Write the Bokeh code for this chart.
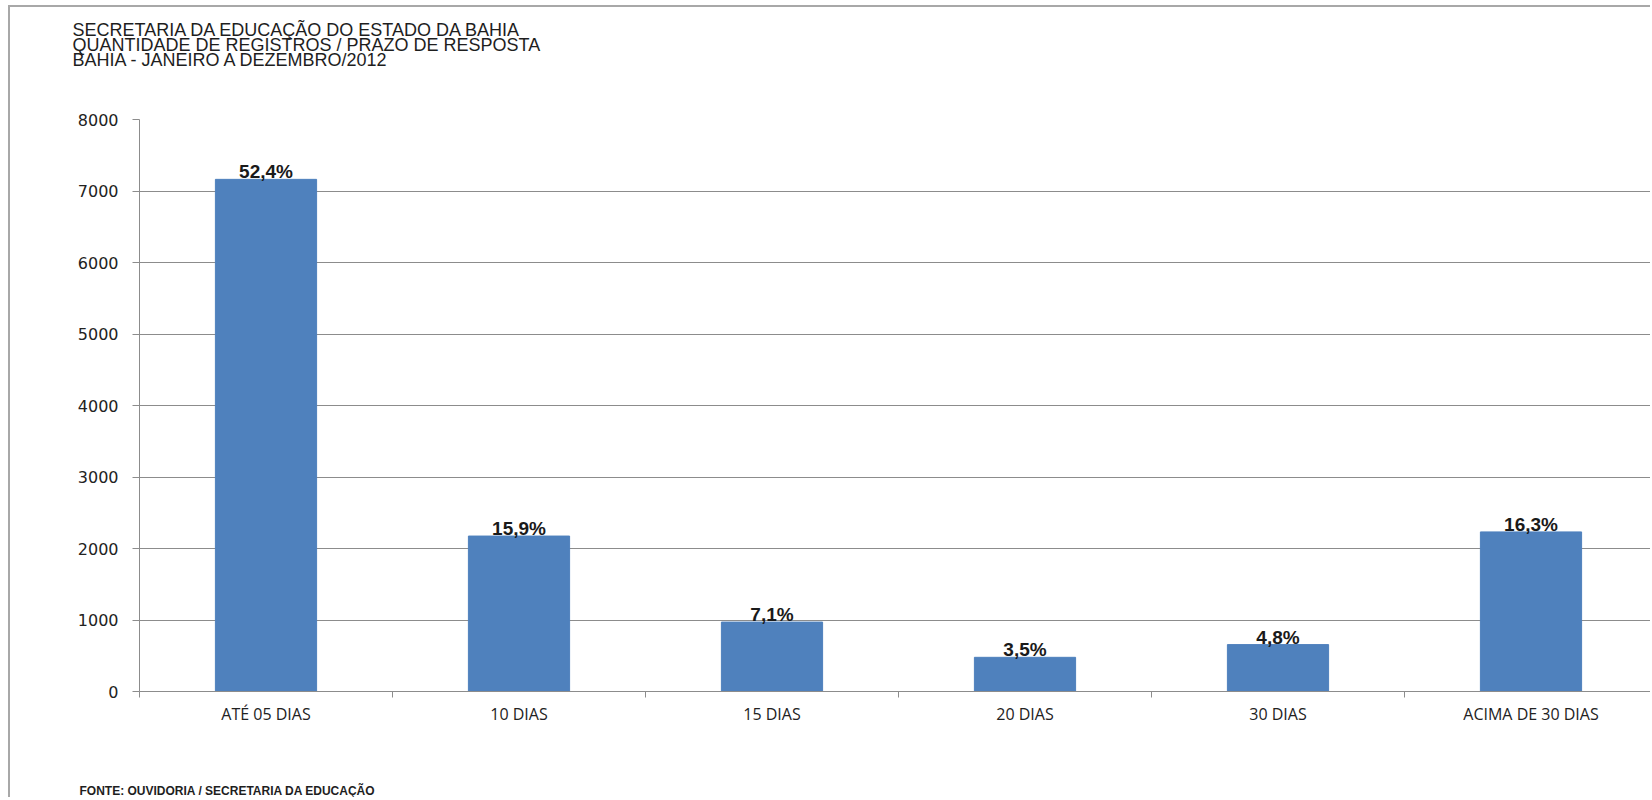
from bokeh.plotting import figure
from bokeh.models import Range1d, FixedTicker, Title, ColumnDataSource
from bokeh.core.properties import value
from bokeh.embed import file_html
from bokeh.resources import INLINE

# ---- data ----
categories = ["ATÉ 05 DIAS", "10 DIAS", "15 DIAS", "20 DIAS", "30 DIAS", "ACIMA DE 30 DIAS"]
registros = [7163, 2174, 971, 478, 656, 2232]
percentuais = ["52,4%", "15,9%", "7,1%", "3,5%", "4,8%", "16,3%"]
y_ticks = [0, 1000, 2000, 3000, 4000, 5000, 6000, 7000, 8000]
title_lines = [
    "SECRETARIA  DA EDUCAÇÃO DO ESTADO DA BAHIA",
    "QUANTIDADE  DE REGISTROS  / PRAZO DE RESPOSTA",
    "BAHIA - JANEIRO  A DEZEMBRO/2012",
]
fonte = "FONTE: OUVIDORIA / SECRETARIA DA EDUCAÇÃO"

# ---- layout (canvas pixels) ----
W, H = 1642, 792
LEFT = 129
frame_w = W - LEFT
cat_px = 253.0
y_max = 8000

centers = [i + 0.5 for i in range(len(categories))]
bounds = [float(i) for i in range(len(categories) + 1)]

src = ColumnDataSource(dict(x=centers, y=registros, t=percentuais))

p = figure(width=W, height=H, output_backend="svg", toolbar_location=None, title=None,
           x_range=Range1d(0, frame_w / cat_px), y_range=Range1d(0, y_max),
           min_border_left=LEFT, min_border_top=0, min_border_bottom=0,
           min_border_right=0, outline_line_color=None,
           background_fill_color="white", border_fill_color="white")
p.styles = {"margin-left": "8px", "margin-top": "5px",
            "border-left": "2px solid #a8a8a8", "border-top": "2px solid #a8a8a8"}

p.vbar(x="x", top="y", width=0.4, bottom=0, source=src,
       fill_color="#4f81bd", line_color="#4f81bd")

p.text(x="x", y="y", text="t", source=src, text_align="center",
       text_baseline="bottom", text_font=value("Liberation Sans"),
       text_font_style="bold", text_font_size="19px", text_color="#1a1a1a",
       y_offset=3)

# grid
p.xgrid.visible = False
p.ygrid.ticker = FixedTicker(ticks=y_ticks)
p.ygrid.grid_line_color = "#8c8c8c"
p.ygrid.grid_line_width = 1

# y axis
ya = p.yaxis[0]
ya.ticker = FixedTicker(ticks=y_ticks)
ya.axis_line_color = "#8c8c8c"
ya.major_tick_line_color = "#8c8c8c"
ya.major_tick_out = 7
ya.major_tick_in = 0
ya.minor_tick_line_color = None
ya.major_label_standoff = 14
ya.major_label_text_font = "DejaVu Sans"
ya.major_label_text_font_size = "16px"
ya.major_label_text_color = "#222222"

# x axis
xa = p.xaxis[0]
xa.ticker = FixedTicker(ticks=centers, minor_ticks=bounds)
xa.major_label_overrides = {c: lab for c, lab in zip(centers, categories)}
xa.axis_line_color = "#8c8c8c"
xa.major_tick_line_color = None
xa.major_tick_out = 0
xa.major_tick_in = 0
xa.minor_tick_line_color = "#8c8c8c"
xa.minor_tick_out = 6
xa.minor_tick_in = 0
xa.major_label_standoff = 5
xa.major_label_text_font = "Open Sans"
xa.major_label_text_font_size = "16px"
xa.major_label_text_color = "#222222"

# ---- titles (above panel: first added sits next to the frame) ----
top_gap = Title(text=" ", text_font_size="12px", standoff=19, align="left")
p.add_layout(top_gap, "above")
main_title = Title(text="\n".join(title_lines), align="left", offset=62 - LEFT,
                   vertical_align="top", standoff=24,
                   text_font="Liberation Sans", text_font_size="18px",
                   text_font_style="normal", text_color="#1e1e1e",
                   text_line_height=0.77)
p.add_layout(main_title, "above")

# ---- source note (below panel: axis first, then gap, then note) ----
bottom_gap = Title(text=" ", text_font_size="12px", standoff=36, align="left")
p.add_layout(bottom_gap, "below")
note = Title(text=fonte, align="left", offset=69 - LEFT, vertical_align="bottom",
             standoff=4, text_font="Liberation Sans", text_font_size="12px",
             text_font_style="bold", text_color="#1e1e1e")
p.add_layout(note, "below")

open("out.html", "w").write(file_html(p, INLINE))
